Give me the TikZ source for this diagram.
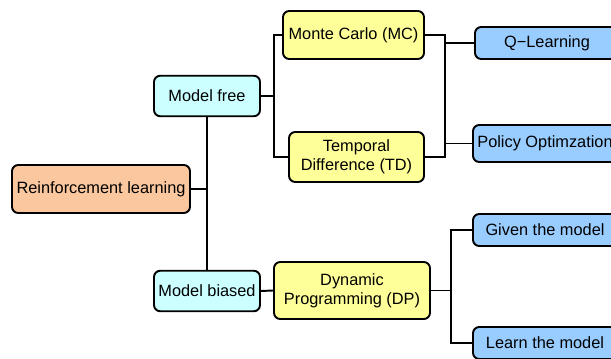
\documentclass[tikz,border=0pt]{standalone}
\usepackage{fontspec}
\setmainfont{Liberation Sans}
\usetikzlibrary{positioning,calc}
\definecolor{rlorange}{RGB}{250,199,158}
\definecolor{mcyan}{RGB}{204,255,255}
\definecolor{myellow}{RGB}{255,255,153}
\definecolor{mblue}{RGB}{153,204,255}

\begin{document}
\begin{tikzpicture}[
    x=0.02cm, y=-0.02cm,
    font=\fontsize{9.3}{11}\selectfont,
    blk/.style={draw=black, line width=1.1pt, rounded corners=3.5pt, align=center, inner sep=1pt},
    root/.style={blk, fill=rlorange, minimum width=3.56cm, minimum height=0.96cm},
    kind/.style={blk, fill=mcyan, minimum width=2.12cm, minimum height=0.81cm},
    meth/.style={blk, fill=myellow},
    leaf/.style={blk, fill=mblue, minimum width=2.88cm, minimum height=0.64cm},
    conn/.style={draw=black, line width=1.1pt}
  ]
  \clip (0,0) rectangle (611,358);
  \fill[white] (0,0) rectangle (611,358);

  % --- ROOT / KINDS ---
  \node[root] (rl) at (101,189) {Reinforcement learning};
  \node[kind] (mfree) at (207,96) {Model free};
  \node[kind] (mbias) at (207,291) {Model biased};

  % --- METHODS ---
  \node[meth, minimum width=2.82cm, minimum height=0.96cm] (mc) at (353.5,35) {Monte Carlo (MC)};
  \node[meth, minimum width=2.7cm, minimum height=1cm] (td) at (356.5,157) {Temporal\\Difference (TD)};
  \node[meth, minimum width=3.12cm, minimum height=1.14cm] (dp) at (352,290.5) {Dynamic\\Programming (DP)};

  % --- LEAVES ---
  \node[leaf] (qlearn) at (547,43) {Q−Learning};
  \node[leaf, minimum height=0.74cm] (policy) at (545,143.5) {Policy Optimzation};
  \node[leaf] (given) at (545,230) {Given the model};
  \node[leaf] (learn) at (545,343) {Learn the model};

  % --- CONNECTIONS ---
  \coordinate (freefork) at (274,96);
  \coordinate (mcbus) at (445,157);
  \coordinate (dpfork) at (451,290.5);

  % root -> kinds
  \draw[conn] (mfree.south) -- (mbias.north);
  \draw[conn] (rl.east) -- (rl.east -| mfree.south);

  % model free -> MC, TD
  \draw[conn] (mfree.east) -- (freefork);
  \draw[conn] (mc.west) -| (freefork) |- (td.west);

  % MC, TD -> leaves
  \draw[conn] (mc.east) -| (mcbus) -- (td.east);
  \draw[conn] (qlearn.west) -- (qlearn.west -| mcbus);
  \draw[conn] (policy.west) -- (policy.west -| mcbus);

  % model biased -> DP -> leaves
  \draw[conn] (mbias.east) -- (dp.west);
  \draw[conn] (dp.east) -- (dpfork);
  \draw[conn] (given.west) -| (dpfork) |- (learn.west);

\end{tikzpicture}
\end{document}
